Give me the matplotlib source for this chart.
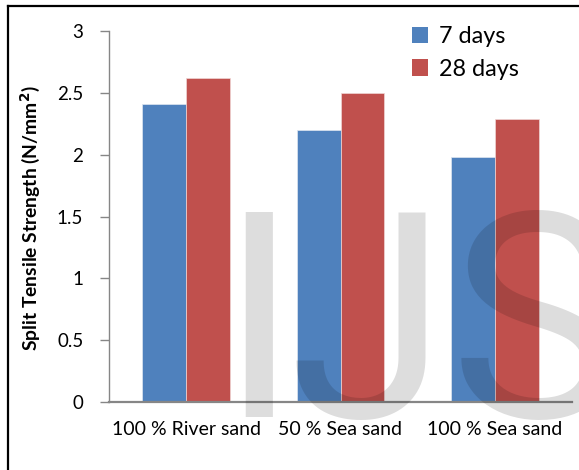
import numpy as np
import matplotlib.pyplot as plt
from matplotlib.lines import Line2D
from matplotlib.patches import Patch

# split tensile strength, N/mm^2
categories = ['100 % River sand', '50 % Sea sand', '100 % Sea sand']
days_7 = [2.41, 2.20, 1.98]
days_28 = [2.62, 2.50, 2.29]
series_names = ['7 days', '28 days']
yticks = [0, 0.5, 1, 1.5, 2, 2.5, 3]

blue = '#4F81BD'
red = '#C0504D'
axis_gray = '#868686'

W, H = 579, 470
fig = plt.figure(figsize=(W / 100, H / 100), dpi=100)
ax = fig.add_axes([109 / W, 1 - 402 / H, (572 - 109) / W, (402 - 31) / H])

x = np.arange(len(categories))
w = 0.285
ax.bar(x - w / 2, days_7, w, color=blue, edgecolor='#dfe6f0', linewidth=0.5)
ax.bar(x + w / 2, days_28, w, color=red, edgecolor='#efd6d5', linewidth=0.5)

ax.set_xlim(-0.5, 2.5)
ax.set_ylim(0, 3)
ax.set_yticks(yticks)
ax.set_yticklabels([f'{t:g}' for t in yticks])
ax.set_xticks(x)
ax.set_xticklabels(categories)

for s in ['top', 'right']:
    ax.spines[s].set_visible(False)
ax.spines['left'].set_color(axis_gray)
ax.spines['left'].set_linewidth(1.0)
ax.spines['bottom'].set_color(axis_gray)
ax.spines['bottom'].set_linewidth(1.6)

ax.tick_params(axis='y', length=6.5, width=1.0, color=axis_gray, pad=12,
               labelsize=13.5, labelfontfamily='Lato')
ax.tick_params(axis='x', length=0, pad=14, labelsize=14, labelfontfamily='Lato')

fig.text(30 / W, 1 - 218 / H, 'Split Tensile Strength (N/mm$^\\mathbf{2}$)',
         rotation=90, ha='center', va='center', fontsize=13.9,
         fontweight='bold', family='Lato')

handles = [Patch(facecolor=blue), Patch(facecolor=red)]
ax.legend(handles, series_names, loc='upper left',
          bbox_to_anchor=(391 / W, 1 - 5 / H), bbox_transform=fig.transFigure,
          frameon=False, handlelength=0.7, handleheight=0.7,
          handletextpad=0.45, labelspacing=0.5,
          prop={'family': 'Lato', 'size': 16.8})

# outer frame (left and top edges only show)
fig.add_artist(Line2D([8 / W, 8 / W], [0, 1 - 6 / H], color='black', lw=1.6))
fig.add_artist(Line2D([8 / W, 1], [1 - 6 / H, 1 - 6 / H], color='black', lw=1.6))

# watermark letters
for letter, px in zip('IJS', [219, 289, 450]):
    fig.text(px / W, 1 - 417 / H, letter, fontsize=207, family='Roboto',
             color='black', alpha=0.135, ha='left', va='baseline', zorder=10)

fig.savefig('out.png', dpi=100)
